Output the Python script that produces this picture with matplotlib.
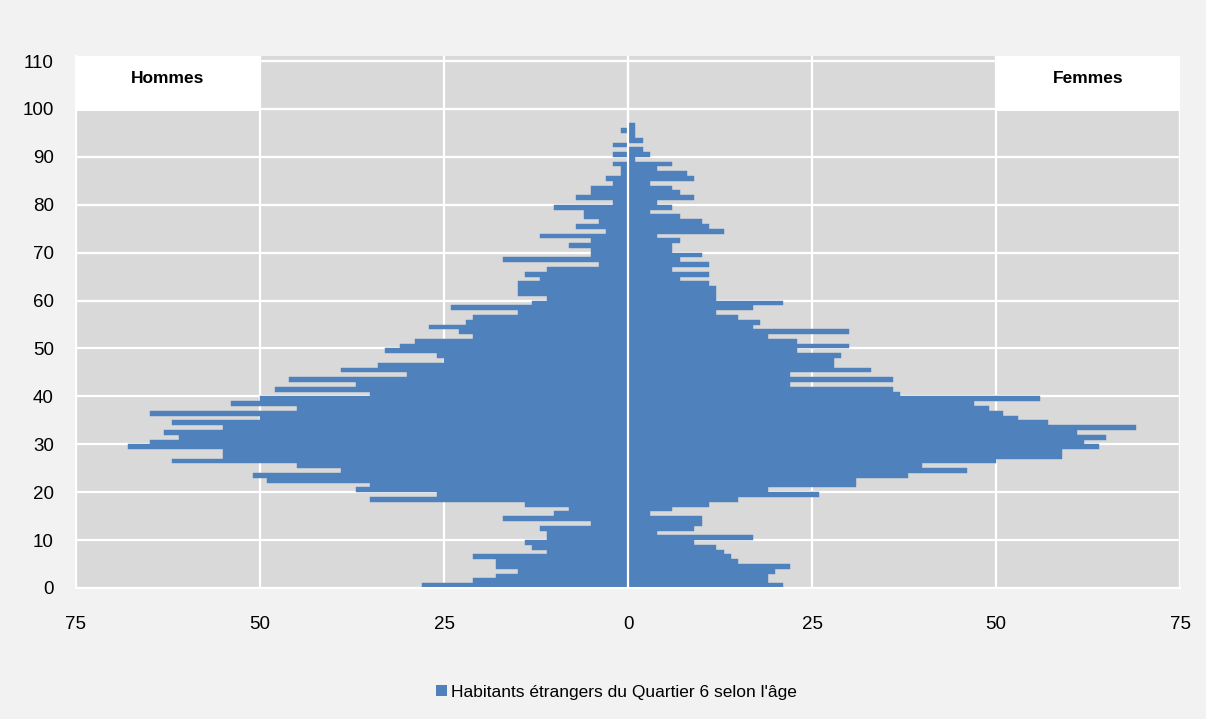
import numpy as np
import matplotlib
matplotlib.use("Agg")
import matplotlib.pyplot as plt
from matplotlib.patches import Rectangle, Patch

plt.rcParams['font.family'] = ['Liberation Sans', 'DejaVu Sans']

ages = list(range(0, 97))

hommes = [28, 21, 18, 15, 18, 18, 21, 11, 13, 14,
          11, 11, 12, 5, 17, 10, 8, 14, 35, 26,
          37, 35, 49, 51, 39, 45, 62, 55, 55, 68,
          65, 61, 63, 55, 62, 50, 65, 45, 54, 50,
          35, 48, 37, 46, 30, 39, 34, 25, 26, 33,
          31, 29, 21, 23, 27, 22, 21, 15, 24, 13,
          11, 15, 15, 15, 12, 14, 11, 4, 17, 5,
          5, 8, 5, 12, 3, 7, 4, 6, 6, 10,
          2, 7, 5, 5, 2, 3, 1, 1, 2, 0,
          2, 0, 2, 0, 0, 1, 0]

femmes = [21, 19, 19, 20, 22, 15, 14, 13, 12, 9,
          17, 4, 9, 10, 10, 3, 6, 11, 15, 26,
          19, 31, 31, 38, 46, 40, 50, 59, 59, 64,
          62, 65, 61, 69, 57, 53, 51, 49, 47, 56,
          37, 36, 22, 36, 22, 33, 28, 28, 29, 23,
          30, 23, 19, 30, 17, 18, 15, 12, 17, 21,
          12, 12, 12, 11, 7, 11, 6, 11, 7, 10,
          6, 6, 7, 4, 13, 11, 10, 7, 3, 6,
          4, 9, 7, 6, 3, 9, 8, 4, 6, 1,
          3, 2, 0, 2, 1, 1, 1]

x_ticks = [-75, -50, -25, 0, 25, 50, 75]
x_tick_labels = ['75', '50', '25', '0', '25', '50', '75']
y_ticks = list(range(0, 111, 10))
series_label = "Habitants étrangers du Quartier 6 selon l'âge"
left_title = "Hommes"
right_title = "Femmes"

bar_color = '#4F81BD'

fig = plt.figure(figsize=(12.06, 7.19), dpi=100, facecolor='#F2F2F2')
ax = fig.add_axes([76 / 1206, (719 - 588) / 719, 1104 / 1206, (588 - 56.3) / 719])
ax.set_facecolor('#D9D9D9')

y = np.array(ages) + 0.5
ax.barh(y, -np.array(hommes), height=1.0, color=bar_color, edgecolor=bar_color,
        linewidth=0.3, zorder=2, label=series_label)
ax.barh(y, np.array(femmes), height=1.0, color=bar_color, edgecolor=bar_color,
        linewidth=0.3, zorder=2)

ax.axvline(0, color='white', lw=1.6, zorder=3)

ax.set_xlim(-75, 75)
ax.set_ylim(0, 111)
ax.set_xticks(x_ticks)
ax.set_xticklabels(x_tick_labels)
ax.set_yticks(y_ticks)
ax.set_axisbelow(True)
ax.grid(True, color='white', lw=1.6, zorder=1)
ax.tick_params(axis='both', length=0, labelsize=13.5, colors='black')
ax.tick_params(axis='y', pad=16)
ax.tick_params(axis='x', pad=20)

for s in ['top', 'right']:
    ax.spines[s].set_visible(False)
for s in ['left', 'bottom']:
    ax.spines[s].set_color('white')
    ax.spines[s].set_linewidth(1.5)

# Title boxes
ax.add_patch(Rectangle((-75, 99.5), 25, 11.5, facecolor='white', edgecolor='none',
                       zorder=4, clip_on=False))
ax.add_patch(Rectangle((50, 99.5), 25, 11.5, facecolor='white', edgecolor='none',
                       zorder=4, clip_on=False))
ax.text(-62.5, 106.3, left_title, ha='center', va='center', fontsize=12.5,
        fontweight='bold', zorder=5)
ax.text(62.5, 106.3, right_title, ha='center', va='center', fontsize=12.5,
        fontweight='bold', zorder=5)

leg = fig.legend(handles=[Patch(facecolor=bar_color, edgecolor='none', label=series_label)],
                 loc='center', bbox_to_anchor=(616.5 / 1206, 1 - 692 / 719),
                 frameon=False, fontsize=12.5, handlelength=0.65, handleheight=0.65,
                 handletextpad=0.25)

fig.savefig('out.png', dpi=100, facecolor=fig.get_facecolor())
